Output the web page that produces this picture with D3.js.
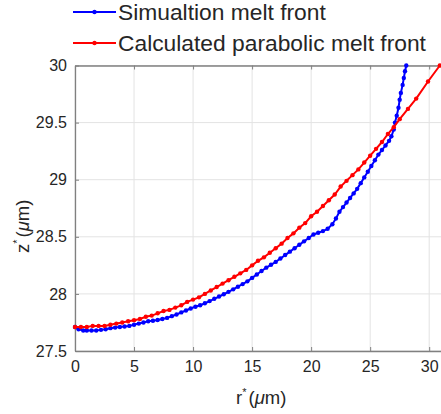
<!DOCTYPE html>
<html>
<head>
<meta charset="utf-8">
<script src="https://cdn.jsdelivr.net/npm/d3@7"></script>
<style>
  body { margin: 0; background: #fff; }
  text { font-family: "Liberation Sans", Arial, Helvetica, sans-serif; fill: #262626; }
</style>
</head>
<body>
<script>
// simulation melt front (r*, z*)
var simR = [0, 0.3, 0.7, 1.0, 1.4, 1.8, 2.2, 2.6, 3.0, 3.4, 3.8, 4.2, 4.6, 5.0, 5.4, 5.8, 6.2, 6.6, 7.0, 7.4,
  7.8, 8.2, 8.6, 9.0, 9.4, 9.8, 10.2, 10.6, 11.0, 11.4, 11.8, 12.2, 12.6, 13.0, 13.4, 13.8, 14.2, 14.6, 15.0, 15.4,
  15.8, 16.2, 16.6, 17.0, 17.4, 17.8, 18.2, 18.6, 19.0, 19.4, 19.8, 20.2, 20.6, 21.0, 21.4, 21.8, 22.1, 22.4, 22.7, 23.0,
  23.3, 23.6, 23.9, 24.2, 24.5, 24.8, 25.1, 25.4, 25.7, 26.0, 26.3, 26.6, 26.8, 27.0, 27.1, 27.25, 27.4, 27.5, 27.6, 27.75,
  27.85, 27.95, 28.06];
var simZ = [27.71, 27.69, 27.68, 27.68, 27.68, 27.68, 27.685, 27.69, 27.70, 27.705, 27.71, 27.715, 27.72, 27.73, 27.74, 27.75, 27.76, 27.765, 27.772, 27.78,
  27.79, 27.805, 27.82, 27.838, 27.855, 27.872, 27.888, 27.90, 27.918, 27.937, 27.957, 27.977, 27.997, 28.018, 28.04, 28.063, 28.086, 28.11, 28.14, 28.17,
  28.20, 28.23, 28.255, 28.28, 28.31, 28.34, 28.37, 28.40, 28.43, 28.46, 28.49, 28.52, 28.535, 28.55, 28.57, 28.61, 28.66, 28.72, 28.76, 28.80,
  28.84, 28.88, 28.92, 28.97, 29.02, 29.07, 29.12, 29.17, 29.22, 29.26, 29.30, 29.34, 29.38, 29.44, 29.50, 29.56, 29.63, 29.70, 29.76, 29.83,
  29.89, 29.95, 30.0];

// calculated parabolic melt front (r*, z*)
var parR = [0, 0.5, 1, 1.5, 2, 2.5, 3, 3.5, 4, 4.5, 5, 5.5, 6, 6.5, 7, 7.5, 8, 8.5, 9, 9.5,
  10, 10.5, 11, 11.5, 12, 12.5, 13, 13.5, 14, 14.5, 15, 15.5, 16, 16.5, 17, 17.5, 18, 18.5, 19, 19.5,
  20, 20.5, 21, 21.5, 22, 22.5, 23, 23.5, 24, 24.5, 25, 25.5, 26, 26.5, 27, 27.5, 28.2, 28.9, 29.9, 30.9];
var parZ = [27.71, 27.71, 27.71, 27.72, 27.72, 27.72, 27.73, 27.74, 27.75, 27.76, 27.77, 27.78, 27.80, 27.81, 27.83, 27.85, 27.86, 27.88, 27.90, 27.93,
  27.95, 27.97, 28.00, 28.03, 28.06, 28.09, 28.12, 28.15, 28.18, 28.21, 28.25, 28.29, 28.32, 28.36, 28.40, 28.44, 28.49, 28.53, 28.58, 28.62,
  28.68, 28.72, 28.77, 28.82, 28.87, 28.94, 28.99, 29.04, 29.09, 29.15, 29.21, 29.27, 29.33, 29.40, 29.46, 29.53, 29.62, 29.71, 29.86, 30.0];

var xTicks = [0, 5, 10, 15, 20, 25, 30];
var yTicks = [27.5, 28, 28.5, 29, 29.5, 30];
var legendNames = ['Simualtion melt front', 'Calculated parabolic melt front'];
var colors = ['#0000ff', '#ff0000'];

var margin = { top: 65.5, right: 0, bottom: 63, left: 75 },
  W = 441, H = 414,
  width = W - margin.left - margin.right,
  height = H - margin.top - margin.bottom;

var svg = d3.select('body').append('svg')
  .attr('width', W)
  .attr('height', H);

var g = svg.append('g')
  .attr('transform', 'translate(' + margin.left + ',' + margin.top + ')');

var x = d3.scaleLinear().domain([0, 31]).range([0, width]);
var y = d3.scaleLinear().domain([27.5, 30]).range([height, 0]);

// grid
g.append('g').selectAll('line').data(xTicks).enter().append('line')
  .attr('x1', function (d) { return x(d); }).attr('x2', function (d) { return x(d); })
  .attr('y1', 0).attr('y2', height)
  .attr('stroke', '#e3e3e3').attr('stroke-width', 1);
g.append('g').selectAll('line').data(yTicks).enter().append('line')
  .attr('x1', 0).attr('x2', width)
  .attr('y1', function (d) { return y(d); }).attr('y2', function (d) { return y(d); })
  .attr('stroke', '#e3e3e3').attr('stroke-width', 1);

// axes
var fmt = function (d) { return String(d); };
var xAxis = g.append('g')
  .attr('transform', 'translate(0,' + height + ')')
  .call(d3.axisBottom(x).tickValues(xTicks).tickFormat(fmt).tickSizeInner(-4).tickSizeOuter(0).tickPadding(10));
var xTop = g.append('g')
  .call(d3.axisTop(x).tickValues(xTicks).tickFormat('').tickSizeInner(-4).tickSizeOuter(0));
var yAxis = g.append('g')
  .call(d3.axisLeft(y).tickValues(yTicks).tickFormat(fmt).tickSizeInner(-4).tickSizeOuter(0).tickPadding(8));

[xAxis, xTop, yAxis].forEach(function (a) {
  a.select('.domain').attr('stroke', '#808080').attr('stroke-width', 1.3);
  a.selectAll('.tick line').attr('stroke', '#808080');
  a.selectAll('.tick text').style('font-size', '16px').attr('fill', '#262626')
    .style('font-family', '"Liberation Sans", Arial, sans-serif');
});

// clip
svg.append('defs').append('clipPath').attr('id', 'clip')
  .append('rect').attr('x', -3).attr('y', -3).attr('width', width + 3).attr('height', height + 6);

var line = d3.line()
  .x(function (d) { return x(d[0]); })
  .y(function (d) { return y(d[1]); });

var series = [
  d3.zip(simR, simZ),
  d3.zip(parR, parZ)
];

var plot = g.append('g').attr('clip-path', 'url(#clip)');
series.forEach(function (s, i) {
  plot.append('path')
    .datum(s)
    .attr('fill', 'none')
    .attr('stroke', colors[i])
    .attr('stroke-width', 2)
    .attr('d', line);
  plot.append('g').selectAll('circle').data(s).enter().append('circle')
    .attr('cx', function (d) { return x(d[0]); })
    .attr('cy', function (d) { return y(d[1]); })
    .attr('r', 2.2)
    .attr('fill', colors[i]);
});

// axis labels
var xl = svg.append('text')
  .attr('x', 236).attr('y', 404)
  .style('font-size', '18.5px');
xl.append('tspan').text('r');
xl.append('tspan').attr('dy', -8).style('font-size', '11px').text('*');
xl.append('tspan').attr('dy', 8).attr('dx', 2).text('(');
xl.append('tspan').style('font-style', 'italic').text('\u03bc');
xl.append('tspan').text('m)');

var yl = svg.append('text')
  .attr('transform', 'translate(29,253) rotate(-90)')
  .style('font-size', '18.5px');
yl.append('tspan').text('z');
yl.append('tspan').attr('dy', -8).style('font-size', '11px').text('*');
yl.append('tspan').attr('dy', 8).attr('dx', 2).text('(');
yl.append('tspan').style('font-style', 'italic').text('\u03bc');
yl.append('tspan').text('m)');

// legend
var legend = svg.append('g').selectAll('g').data(legendNames).enter().append('g')
  .attr('transform', function (d, i) { return 'translate(0,' + (12 + i * 31) + ')'; });
legend.append('line')
  .attr('x1', 73).attr('x2', 116).attr('y1', 0).attr('y2', 0)
  .attr('stroke', function (d, i) { return colors[i]; })
  .attr('stroke-width', 2);
legend.append('circle')
  .attr('cx', 94.5).attr('cy', 0).attr('r', 2.2)
  .attr('fill', function (d, i) { return colors[i]; });
legend.append('text')
  .attr('x', 118).attr('y', 8)
  .style('font-size', '22.8px')
  .text(function (d) { return d; });
</script>
</body>
</html>
